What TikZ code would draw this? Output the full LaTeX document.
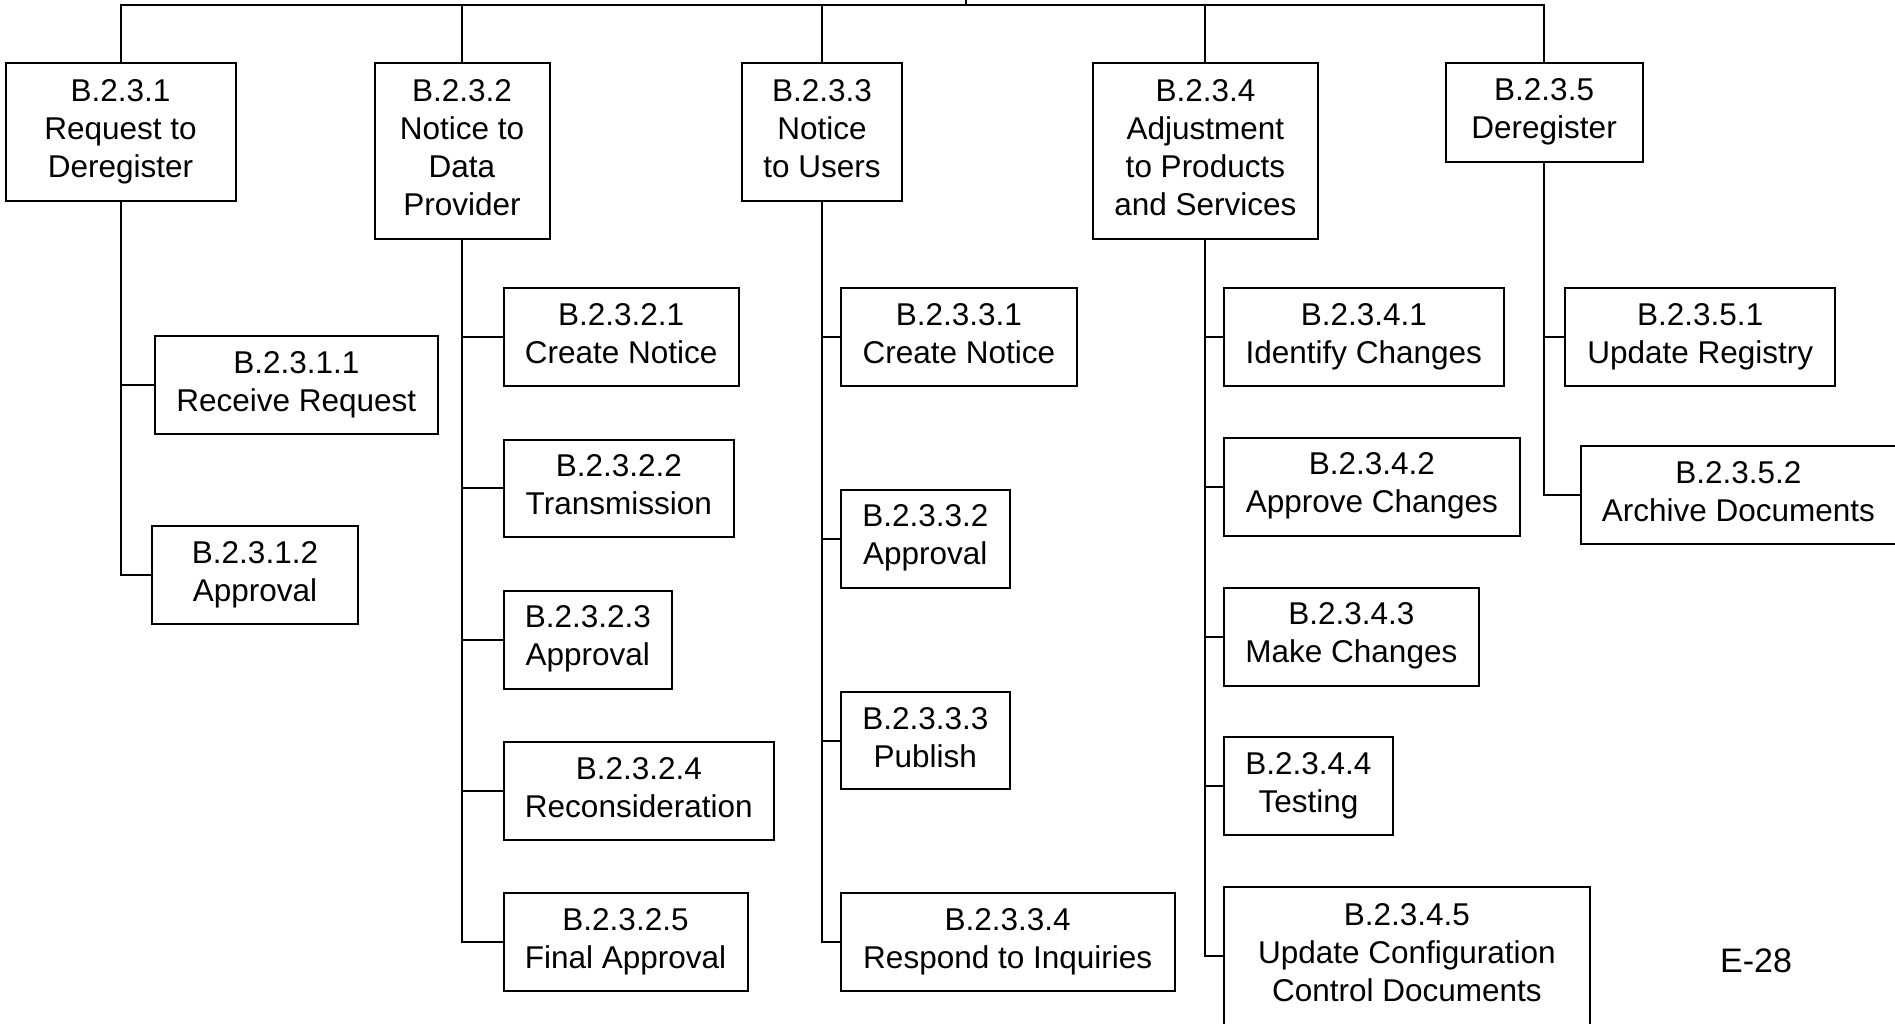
\documentclass[tikz,border=0pt]{standalone}
\usepackage{fontspec}
\setmainfont{Liberation Sans}
\usepackage{tikz}
\newcommand{\wbsfont}{\fontsize{31.5}{38}\selectfont}
\newcommand{\wbsstrut}{\rule[-7.5pt]{0pt}{56pt}}

\begin{document}
\begin{tikzpicture}[x=1pt, y=-1pt, line width=2pt,
            task/.style={draw, line width=2pt, align=center, inner sep=0pt, font=\wbsfont,
              execute at begin node=\wbsstrut, execute at end node=\wbsstrut}]
            \useasboundingbox (0,0) rectangle (1895,1023);
            \node[task, minimum width=230, minimum height=138] (B_1) at (120.6,132) {B.2.3.1\\Request to\\Deregister};
            \node[task, minimum width=175, minimum height=176] (B_2) at (462,151) {B.2.3.2\\Notice to\\Data\\Provider};
            \node[task, minimum width=160, minimum height=138] (B_3) at (822,132) {B.2.3.3\\Notice\\to Users};
            \node[task, minimum width=225, minimum height=176] (B_4) at (1205.4,151) {B.2.3.4\\Adjustment\\to Products\\and Services};
            \node[task, minimum width=197, minimum height=99] (B_5) at (1544.1,112.7) {B.2.3.5\\Deregister};
            \node[task, minimum width=283.5, minimum height=98] (B_11) at (296.3,385) {B.2.3.1.1\\Receive Request};
            \node[task, minimum width=206, minimum height=98] (B_12) at (255,575) {B.2.3.1.2\\Approval};
            \node[task, minimum width=235, minimum height=98] (B_21) at (621.2,337) {B.2.3.2.1\\Create Notice};
            \node[task, minimum width=230.5, minimum height=97] (B_22) at (618.8,488) {B.2.3.2.2\\Transmission};
            \node[task, minimum width=168.5, minimum height=98] (B_23) at (587.8,639.7) {B.2.3.2.3\\Approval};
            \node[task, minimum width=270.5, minimum height=98] (B_24) at (638.8,791.2) {B.2.3.2.4\\Reconsideration};
            \node[task, minimum width=244, minimum height=98] (B_25) at (625.5,942.3) {B.2.3.2.5\\Final Approval};
            \node[task, minimum width=236.5, minimum height=98] (B_31) at (958.8,337) {B.2.3.3.1\\Create Notice};
            \node[task, minimum width=169.5, minimum height=98] (B_32) at (925.3,538.5) {B.2.3.3.2\\Approval};
            \node[task, minimum width=169.5, minimum height=97] (B_33) at (925.3,740.8) {B.2.3.3.3\\Publish};
            \node[task, minimum width=334, minimum height=98] (B_34) at (1007.7,942.3) {B.2.3.3.4\\Respond to Inquiries};
            \node[task, minimum width=280, minimum height=98] (B_41) at (1363.8,337) {B.2.3.4.1\\Identify Changes};
            \node[task, minimum width=296, minimum height=98] (B_42) at (1371.9,486.5) {B.2.3.4.2\\Approve Changes};
            \node[task, minimum width=255, minimum height=98] (B_43) at (1351.4,636.5) {B.2.3.4.3\\Make Changes};
            \node[task, minimum width=169, minimum height=98] (B_44) at (1308.4,786.3) {B.2.3.4.4\\Testing};
            \node[task, minimum width=366, minimum height=138] (B_45) at (1406.9,956.3) {B.2.3.4.5\\Update Configuration\\Control Documents};
            \node[task, minimum width=270, minimum height=98] (B_51) at (1700.2,337) {B.2.3.5.1\\Update Registry};
            \node[task, minimum width=315, minimum height=98] (B_52) at (1738.4,494.9) {B.2.3.5.2\\Archive Documents};
            \node[font=\fontsize{34}{40}\selectfont] (E) at (1756,961) {E-28};
            \coordinate (R) at (966,0);
            \coordinate (S) at (966,5);
            \draw (R) -- (S);
            \draw (B_1.north) -- (B_1.north |- S) -- (B_5.north |- S) -- (B_5.north);
            \draw (B_2.north) -- (B_2.north |- S);
            \draw (B_3.north) -- (B_3.north |- S);
            \draw (B_4.north) -- (B_4.north |- S);
            \draw (B_1.south) |- (B_12.west);
            \draw (B_1.south |- B_11.west) -- (B_11.west);
            \draw (B_2.south) |- (B_25.west);
            \draw (B_2.south |- B_21.west) -- (B_21.west);
            \draw (B_2.south |- B_22.west) -- (B_22.west);
            \draw (B_2.south |- B_23.west) -- (B_23.west);
            \draw (B_2.south |- B_24.west) -- (B_24.west);
            \draw (B_3.south) |- (B_34.west);
            \draw (B_3.south |- B_31.west) -- (B_31.west);
            \draw (B_3.south |- B_32.west) -- (B_32.west);
            \draw (B_3.south |- B_33.west) -- (B_33.west);
            \draw (B_4.south) |- (B_45.west);
            \draw (B_4.south |- B_41.west) -- (B_41.west);
            \draw (B_4.south |- B_42.west) -- (B_42.west);
            \draw (B_4.south |- B_43.west) -- (B_43.west);
            \draw (B_4.south |- B_44.west) -- (B_44.west);
            \draw (B_5.south) |- (B_52.west);
            \draw (B_5.south |- B_51.west) -- (B_51.west);
        \end{tikzpicture}
\end{document}
